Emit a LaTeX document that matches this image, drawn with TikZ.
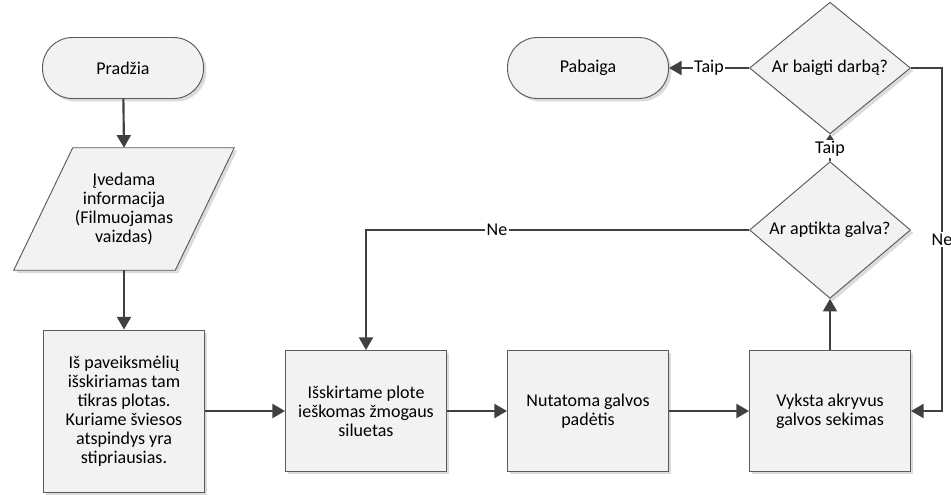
\documentclass[tikz,border=0pt]{standalone}
\usepackage{fontspec}
\setmainfont{Carlito}
\usetikzlibrary{arrows.meta,shapes.geometric,shadows,calc}

\definecolor{edgegray}{HTML}{5A5A5A}
\definecolor{arrowgray}{HTML}{404040}
\definecolor{boxfill}{HTML}{F2F2F2}

\tikzset{
  x=0.75pt, y=-0.75pt,
  every node/.style={font=\fontsize{13.5}{14.2}\selectfont, text=black},
  shade/.style={drop shadow={shadow xshift=2.2pt, shadow yshift=-2.2pt, fill=black!14, opacity=1}},
  terminal/.style={draw=edgegray, line width=0.7pt, fill=boxfill, shade,
    rectangle, rounded corners=22.5pt, minimum width=120.75pt, minimum height=45.75pt},
  procbox/.style={draw=edgegray, line width=0.7pt, fill=boxfill, shade,
    rectangle, align=center, minimum width=120.75pt, minimum height=90.75pt},
  decision/.style={draw=edgegray, line width=0.7pt, fill=boxfill, shade,
    diamond, inner sep=0pt, minimum width=120.75pt, minimum height=90.75pt},
  iobox/.style={rectangle, align=center, minimum width=165pt, minimum height=91.5pt},
  arr/.style={draw=arrowgray, line width=1.6pt, -{Triangle[length=9.5pt,width=10.5pt]}},
  arrsmall/.style={draw=arrowgray, line width=1.6pt, -{Triangle[length=5pt,width=6.5pt]}},
  lbl/.style={fill=white, inner sep=1pt}
}

\begin{document}
\begin{tikzpicture}
  \useasboundingbox (0,0) rectangle (951,494);

  % start / end terminals
  \node[terminal] (start) at (123,68) {Pradžia};
  \node[terminal] (stop) at (588,68) {Pabaiga};

  % input (parallelogram drawn around an invisible node)
  \node[iobox] (input) at (124,209) {};
  \filldraw[draw=edgegray, line width=0.7pt, fill=boxfill, shade]
    ($(input.north west)+(59,0)$) -- (input.north east)
    -- ($(input.south east)+(-59,0)$) -- (input.south west) -- cycle;
  \node[align=center] at (input.center) {Įvedama\\informacija\\(Filmuojamas\\vaizdas)};

  % processing steps
  \node[procbox, minimum height=121.5pt] (extract) at (124,411)
    {Iš paveiksmėlių\\išskiriamas tam\\tikras plotas.\\Kuriame šviesos\\atspindys yra\\stipriausias.};
  \node[procbox] (search) at (366,411) {Išskirtame plote\\ieškomas žmogaus\\siluetas};
  \node[procbox] (pose) at (588,411) {Nutatoma galvos\\padėtis};
  \node[procbox] (track) at (830,411) {Vyksta akryvus\\galvos sekimas};

  % decisions
  \node[decision] (found) at (830,230) {Ar aptikta galva?};
  \node[decision] (finish) at (830,68) {Ar baigti darbą?};

  % main flow
  \draw[arr] (start) -- (input.north);
  \draw[arr] (input.south) -- (extract);
  \draw[arr] (extract) -- (search);
  \draw[arr] (search) -- (pose);
  \draw[arr] (pose) -- (track);
  \draw[arr] (track) -- (found);

  % branches
  \draw[arrsmall] (found.north) -- node[lbl, pos=0.45]{Taip} (finish.south);
  \draw[arr] (finish.west) -- node[lbl]{Taip} (stop.east);
  \draw[arr] (found.west) -- node[lbl, pos=0.658]{Ne} (found.west -| search.north) -- (search.north);
  \coordinate (loopright) at ($(finish.east)+(31,0)$);
  \draw[arr] (finish.east) -- (loopright) |- node[lbl, pos=0.25]{Ne} (track.east);
\end{tikzpicture}
\end{document}
